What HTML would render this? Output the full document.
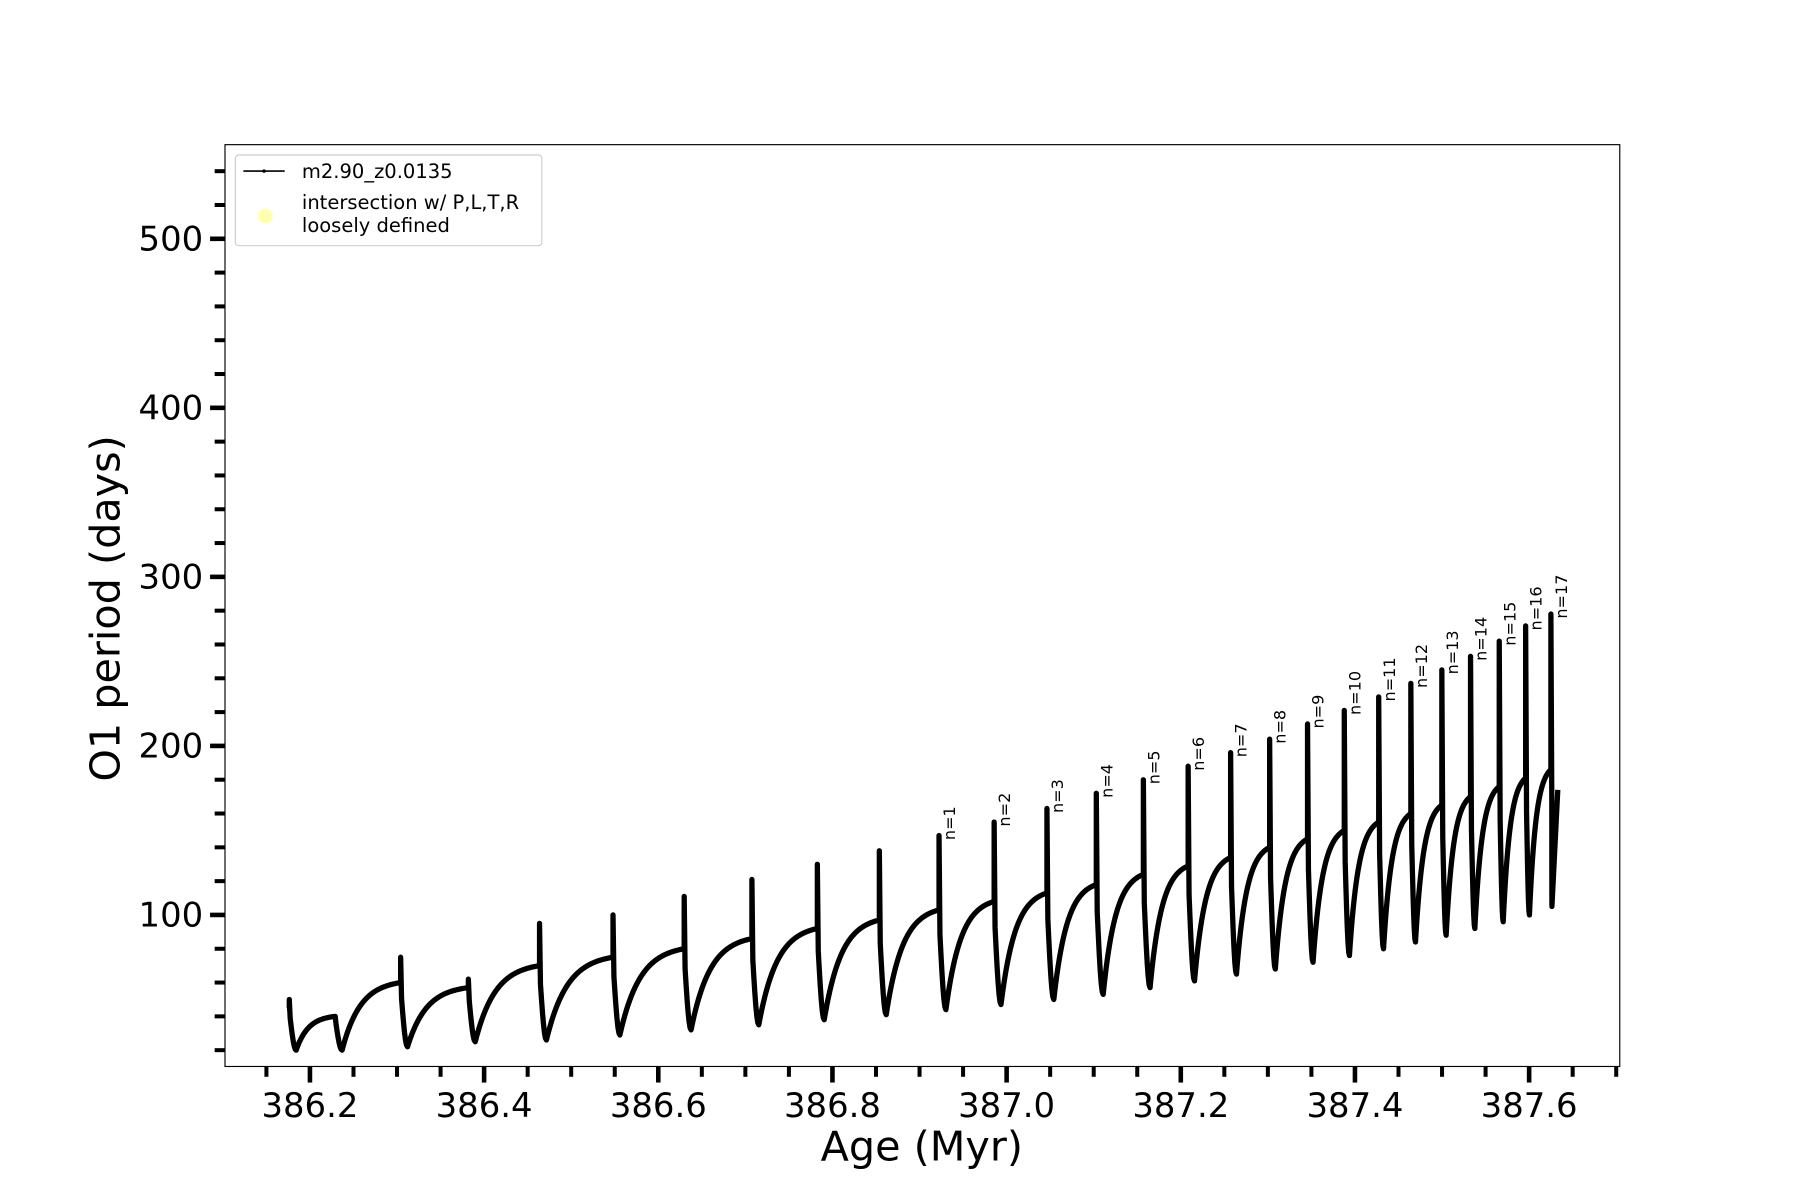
<!DOCTYPE html>
<html><head><meta charset="utf-8"><style>html,body{margin:0;padding:0;background:#fff}svg{display:block}</style></head>
<body>
<svg id="s" width="1800" height="1200" viewBox="0 0 1568 1045.3" xmlns="http://www.w3.org/2000/svg" font-family="DejaVu Sans, Liberation Sans, sans-serif">
<rect x="0" y="0" width="1568" height="1045.3" fill="#fff"/>
<g id="data"></g>
<rect x="196" y="126" width="1215" height="803" fill="none" stroke="#000" stroke-width="1"/>
<g id="ticks"></g>
<text x="803" y="1011" font-size="36" text-anchor="middle">Age (Myr)</text>
<text transform="translate(104,530) rotate(-90)" font-size="36" text-anchor="middle">O1 period (days)</text>
<rect x="205" y="135" width="267" height="79" rx="3" fill="#fff" fill-opacity="0.8" stroke="#ccc" stroke-width="1"/>
<line x1="212" y1="149" x2="248" y2="149" stroke="#000" stroke-width="1.5"/>
<circle cx="230" cy="149" r="1.5" fill="#000"/>
<text x="263" y="155" font-size="17">m2.90_z0.0135</text>
<circle cx="231" cy="188" r="6.5" fill="#ffffb0"/>
<text x="263" y="182" font-size="17">intersection w/ P,L,T,R</text>
<text x="263" y="202" font-size="17">loosely defined</text>
</svg>
<script>
(function(){
function Y(v){return 797-(v-100)*1.4725;}
function X(a){return 270+(a-386.2)*758.6;}
var t=document.getElementById('ticks'),h='';
for(var v=20;v<=540;v+=20){var y=Y(v),maj=(v%100===0);
h+='<line x1="'+(maj?183:187)+'" y1="'+y+'" x2="196" y2="'+y+'" stroke="#000" stroke-width="'+(maj?4:3.5)+'"/>';
if(maj)h+='<text x="177" y="'+(y+10)+'" font-size="29.5" text-anchor="end">'+v+'</text>';}
for(var i=0;i<=31;i++){var a=386.15+i*0.05,x=X(a),maj=(i%4===1);
h+='<line x1="'+x+'" y1="929" x2="'+x+'" y2="'+(maj?943:938)+'" stroke="#000" stroke-width="'+(maj?4:3.5)+'"/>';
if(maj)h+='<text x="'+x+'" y="973" font-size="29.5" text-anchor="middle">'+a.toFixed(1)+'</text>';}
t.innerHTML=h;
var sp=[252,292,349,408,470,534,596,655,712,766,818,866,912,955,996,1035,1072,1106,1139,1171,1201,1229,1256,1281,1306,1329,1351];
var pk=[50,40,75,62,95,100,111,121,130,138,147,155,163,172,180,188,196,204,213,221,229,237,245,253,262,271,278];
var pl=[40,60,57,70,75,80,86,92,97,103,108,113,118,124,129,134,140,145,150,155,160,165,170,176,181,186];
var tr=[20,20,22,25,26,29,32,35,38,41,44,47,50,53,57,61,65,68,72,76,80,84,88,92,96,100,105];
var d='M250,'+Y(45),g='';
for(var i=0;i<sp.length;i++){
 var x0=sp[i];
 var prev=(i===0)?45:pl[i-1];
 var mid=prev*0.75+tr[i]*0.25;
 d+=' L'+x0+','+Y(prev)+' L'+x0+','+Y(pk[i])+' L'+(x0+0.8)+','+Y(mid);
 var xe=(i<sp.length-1)?sp[i+1]:1357;
 var w=xe-x0, dt=Math.min(6,w*0.15);
 var xt=x0+dt;
 for(var k=1;k<=6;k++){var f=k/6;d+=' L'+(x0+0.8+(xt-x0-0.8)*f)+','+Y(mid+(tr[i]-mid)*Math.sin(f*Math.PI/2));}
 if(i<sp.length-1){
  var target=pl[i],L=xe-xt,kk=3.2,norm=1-Math.exp(-kk);
  for(var k=1;k<=40;k++){var f=k/40;d+=' L'+(xt+L*f)+','+Y(tr[i]+(target-tr[i])*(1-Math.exp(-kk*f))/norm);}
 } else {
  d+=' L1357,'+Y(174);
 }
 if(i>=10){var n=i-9,ly=Y(pk[i])+4,lx=x0+14;
  g+='<text transform="translate('+lx+','+ly+') rotate(-90)" font-size="14">n='+n+'</text>';}
}
document.getElementById('data').innerHTML='<path d="'+d+'" fill="none" stroke="#000" stroke-width="4.6" stroke-linejoin="round"/>'+g;
})();
</script>
</body></html>
